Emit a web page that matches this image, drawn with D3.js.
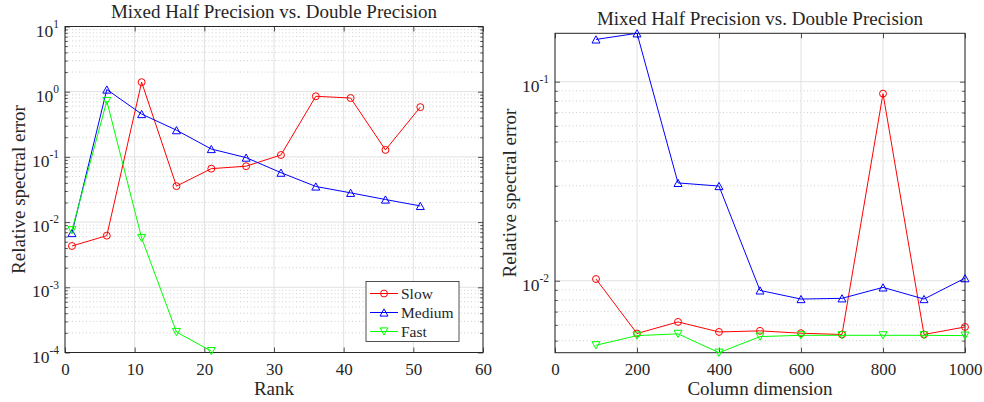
<!DOCTYPE html>
<html>
<head>
<meta charset="utf-8">
<script src="https://cdn.jsdelivr.net/npm/d3@7"></script>
<style>
  html, body { margin: 0; padding: 0; background: #fff; }
  svg { display: block; }
  text { font-family: "Liberation Serif", "Times New Roman", serif; fill: #262626; }
</style>
</head>
<body>
<svg id="chart" width="984" height="402"></svg>
<script>
// ---- data: rank sweep ----
const rankValues = [1, 6, 11, 16, 21, 26, 31, 36, 41, 46, 51];
const slowRank   = [0.0043, 0.0062, 1.40, 0.0356, 0.066, 0.072, 0.107, 0.85, 0.80, 0.128, 0.58];
const mediumRank = [0.0068, 1.08, 0.454, 0.257, 0.132, 0.0975, 0.0573, 0.0352, 0.0281, 0.0222, 0.0177];
const fastRankX  = [1, 6, 11, 16, 21];
const fastRank   = [0.0075, 0.72, 0.0057, 0.000206, 0.000105];
const rankTicks  = [0, 10, 20, 30, 40, 50, 60];
const rankExpTicks = [-4, -3, -2, -1, 0, 1];

// ---- data: column dimension sweep ----
const colDims    = [100, 200, 300, 400, 500, 600, 700, 800, 900, 1000];
const slowCol    = [0.0102, 0.00543, 0.00621, 0.00553, 0.00560, 0.00545, 0.00537, 0.0871, 0.00537, 0.00586];
const mediumCol  = [0.163, 0.175, 0.0310, 0.0299, 0.00894, 0.00809, 0.00816, 0.00926, 0.00809, 0.0103];
const fastCol    = [0.00474, 0.00530, 0.00541, 0.00435, 0.00524, 0.00532, 0.00532, 0.00532, 0.00532, 0.00530];
const colTicks   = [0, 200, 400, 600, 800, 1000];
const colExpTicks = [-2, -1];

const seriesNames  = ["Slow", "Medium", "Fast"];
const seriesColors = ["#ff0000", "#0000ff", "#00ff00"];
const seriesMarkers = ["circle", "up", "down"];

const titleText = "Mixed Half Precision vs. Double Precision";
const yLabelText = "Relative spectral error";

const SERIF = "'Liberation Serif', 'Times New Roman', serif";
const svg = d3.select("#chart");
const AXIS = "#262626";

function markerPath(kind) {
  if (kind === "circle") return d3.symbol().type(d3.symbolCircle).size(38)();
  const h = 3.6, w = 4.0;
  if (kind === "up") return `M0,${-h}L${w},${h}L${-w},${h}Z`;
  return `M0,${h}L${w},${-h}L${-w},${-h}Z`;
}

function logMinors(domain) {
  const lo = Math.floor(Math.log10(domain[0])), hi = Math.ceil(Math.log10(domain[1]));
  const out = [];
  for (let e = lo; e < hi; e++) {
    for (let m = 2; m <= 9; m++) {
      const v = m * Math.pow(10, e);
      if (v >= domain[0] && v <= domain[1]) out.push(v);
    }
  }
  return out;
}

function drawPanel(cfg) {
  const { left, top, width, height, xDomain, yDomain, xTicks, yExps, xLabel, series, yLabelGap } = cfg;
  const g = svg.append("g").attr("transform", `translate(${left},${top})`);
  const x = d3.scaleLinear().domain(xDomain).range([0, width]);
  const y = d3.scaleLog().domain(yDomain).range([height, 0]);
  const yMajors = yExps.map(e => Math.pow(10, e)).filter(v => v >= yDomain[0] * 0.999 && v <= yDomain[1] * 1.001);
  const yMinors = logMinors(yDomain);

  // minor grid (dotted, horizontal)
  g.append("g").selectAll("line").data(yMinors).join("line")
    .attr("x1", 0).attr("x2", width)
    .attr("y1", d => y(d)).attr("y2", d => y(d))
    .attr("stroke", "#c4c4c4").attr("stroke-width", 0.8)
    .attr("stroke-dasharray", "1,2.5");

  // major grid
  g.append("g").selectAll("line").data(xTicks).join("line")
    .attr("x1", d => x(d)).attr("x2", d => x(d))
    .attr("y1", 0).attr("y2", height)
    .attr("stroke", "#e1e1e1").attr("stroke-width", 1);
  g.append("g").selectAll("line").data(yMajors).join("line")
    .attr("x1", 0).attr("x2", width)
    .attr("y1", d => y(d)).attr("y2", d => y(d))
    .attr("stroke", "#e1e1e1").attr("stroke-width", 1);

  // axes with inward ticks on all four sides
  const tickLen = 5, minorLen = 2.8;
  const bottom = d3.axisBottom(x).tickValues(xTicks).tickSize(-tickLen).tickFormat(d => d);
  const topAx = d3.axisTop(x).tickValues(xTicks).tickSize(-tickLen).tickFormat("");
  const leftAx = d3.axisLeft(y).tickValues(yMajors).tickSize(-tickLen).tickFormat("");
  const rightAx = d3.axisRight(y).tickValues(yMajors).tickSize(-tickLen).tickFormat("");
  const leftMinor = d3.axisLeft(y).tickValues(yMinors).tickSize(-minorLen).tickFormat("");
  const rightMinor = d3.axisRight(y).tickValues(yMinors).tickSize(-minorLen).tickFormat("");

  const axes = [
    [bottom, `translate(0,${height})`, true],
    [topAx, "translate(0,0)", false],
    [leftAx, "translate(0,0)", false],
    [rightAx, `translate(${width},0)`, false],
    [leftMinor, "translate(0,0)", false],
    [rightMinor, `translate(${width},0)`, false]
  ];
  axes.forEach(([ax, tr, labelled]) => {
    const a = g.append("g").attr("transform", tr).call(ax)
      .attr("font-family", SERIF).attr("font-size", 17);
    a.select(".domain").remove();
    a.selectAll(".tick line").attr("stroke", AXIS).attr("stroke-width", 0.8);
    if (labelled) {
      a.selectAll(".tick text").attr("fill", AXIS).attr("y", 22).attr("dy", 0)
        .style("font-family", SERIF);
    } else {
      a.selectAll(".tick text").remove();
    }
  });

  // y tick labels as powers of ten
  const yl = g.append("g");
  yMajors.forEach(v => {
    const e = Math.round(Math.log10(v));
    const t = yl.append("text").attr("x", -6).attr("y", y(v) + 10)
      .attr("text-anchor", "end").attr("font-size", 17.5);
    t.append("tspan").text("10");
    t.append("tspan").attr("font-size", 11.5).attr("dy", -8.7).text(String(e));
  });

  // box
  g.append("rect").attr("x", 0).attr("y", 0).attr("width", width).attr("height", height)
    .attr("fill", "none").attr("stroke", AXIS).attr("stroke-width", 1);

  // series
  const clip = "clip" + left;
  g.append("clipPath").attr("id", clip).append("rect")
    .attr("x", -6).attr("y", -6).attr("width", width + 12).attr("height", height + 12);
  const line = d3.line().x(d => x(d[0])).y(d => y(d[1]));
  series.forEach((s, i) => {
    const pts = s.xs.map((xv, k) => [xv, s.ys[k]]);
    const sg = g.append("g").attr("clip-path", `url(#${clip})`);
    sg.append("path").datum(pts).attr("d", line)
      .attr("fill", "none").attr("stroke", seriesColors[i]).attr("stroke-width", 1);
    sg.selectAll("path.m").data(pts).join("path").attr("class", "m")
      .attr("transform", d => `translate(${x(d[0])},${y(d[1])})`)
      .attr("d", markerPath(seriesMarkers[i]))
      .attr("fill", "none").attr("stroke", seriesColors[i]).attr("stroke-width", 1);
  });

  // title and labels
  svg.append("text").attr("x", left + width / 2).attr("y", top - 8.5)
    .attr("text-anchor", "middle").attr("font-size", 19).text(titleText);
  svg.append("text").attr("x", left + width / 2).attr("y", top + height + 42.5)
    .attr("text-anchor", "middle").attr("font-size", 19).text(xLabel);
  svg.append("text")
    .attr("transform", `translate(${left - yLabelGap},${top + height / 2}) rotate(-90)`)
    .attr("text-anchor", "middle").attr("font-size", 19).text(yLabelText);

  return { g, x, y };
}

// left panel: error vs rank
drawPanel({
  left: 65, top: 26.5, width: 418, height: 326,
  xDomain: [0, 60], yDomain: [1e-4, 10],
  xTicks: rankTicks, yExps: rankExpTicks, xLabel: "Rank", yLabelGap: 40,
  series: [
    { xs: rankValues, ys: slowRank },
    { xs: rankValues, ys: mediumRank },
    { xs: fastRankX, ys: fastRank }
  ]
});

// legend in the lower right of the left panel
const lg = svg.append("g").attr("transform", "translate(366,281.5)");
lg.append("rect").attr("width", 93).attr("height", 60)
  .attr("fill", "#fff").attr("stroke", AXIS).attr("stroke-width", 0.8);
seriesNames.forEach((name, i) => {
  const yy = 12 + i * 19;
  lg.append("line").attr("x1", 4).attr("x2", 32).attr("y1", yy).attr("y2", yy)
    .attr("stroke", seriesColors[i]).attr("stroke-width", 1);
  lg.append("path").attr("transform", `translate(18,${yy})`).attr("d", markerPath(seriesMarkers[i]))
    .attr("fill", "none").attr("stroke", seriesColors[i]).attr("stroke-width", 1);
  lg.append("text").attr("x", 35).attr("y", yy + 5).attr("font-size", 15.5).text(name);
});

// right panel: error vs column dimension, y range fitted to the data
const allCol = slowCol.concat(mediumCol, fastCol);
drawPanel({
  left: 555, top: 33.3, width: 410, height: 319.4,
  xDomain: [0, 1000], yDomain: d3.extent(allCol),
  xTicks: colTicks, yExps: colExpTicks, xLabel: "Column dimension", yLabelGap: 39,
  series: [
    { xs: colDims, ys: slowCol },
    { xs: colDims, ys: mediumCol },
    { xs: colDims, ys: fastCol }
  ]
});
</script>
</body>
</html>
